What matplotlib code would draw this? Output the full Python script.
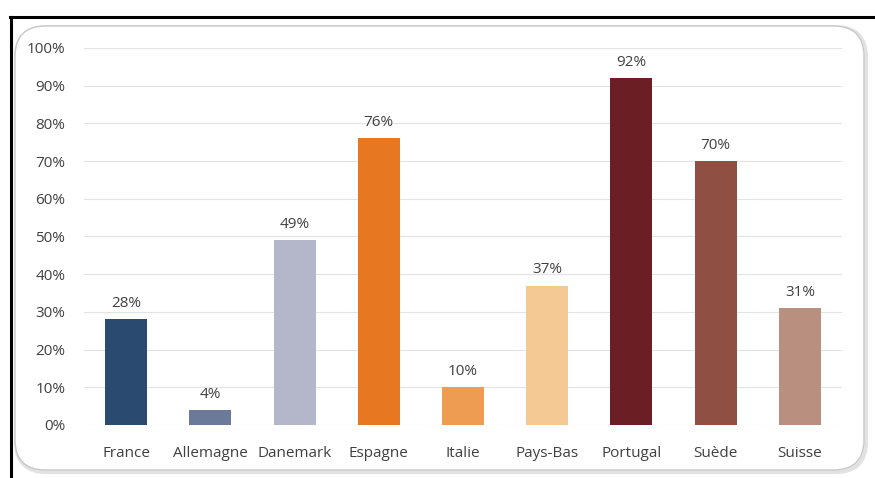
import matplotlib
matplotlib.use("Agg")
import matplotlib.pyplot as plt
from matplotlib.patches import FancyBboxPatch
from matplotlib.lines import Line2D
from matplotlib.ticker import FuncFormatter

countries = ["France", "Allemagne", "Danemark", "Espagne", "Italie",
             "Pays-Bas", "Portugal", "Suède", "Suisse"]
shares = [28, 4, 49, 76, 10, 37, 92, 70, 31]
colors = ["#2b4a6f", "#6b7a99", "#b3b7c9", "#e87722", "#ee9c52",
          "#f5c993", "#6b1f24", "#8f4f42", "#b99080"]
yticks = list(range(0, 101, 10))

plt.rcParams["font.family"] = ["Open Sans", "DejaVu Sans"]

W, H = 875, 478
fig = plt.figure(figsize=(W / 100, H / 100), dpi=100)
fig.patch.set_facecolor("white")

# outer frame lines (top and left)
fig.add_artist(Line2D([10 / W, 1.0], [1 - 17 / H, 1 - 17 / H], color="black", lw=2.2,
                      transform=fig.transFigure, zorder=-2))
fig.add_artist(Line2D([11 / W, 11 / W], [0, 1 - 17 / H], color="black", lw=2.2,
                      transform=fig.transFigure, zorder=-2))

# rounded chart container with soft shadow
shadow = FancyBboxPatch((16 / W, 1 - 472 / H), (866 - 16) / W, (472 - 27) / H,
                        boxstyle="round,pad=0,rounding_size=0.035",
                        transform=fig.transFigure, facecolor="none",
                        edgecolor="#e2e2e2", lw=3, mutation_aspect=W / H, zorder=-2)
fig.add_artist(shadow)
box = FancyBboxPatch((15 / W, 1 - 470 / H), (864 - 15) / W, (470 - 26) / H,
                     boxstyle="round,pad=0,rounding_size=0.035",
                     transform=fig.transFigure, facecolor="white",
                     edgecolor="#c9c9c9", lw=1.0, mutation_aspect=W / H, zorder=-1)
fig.add_artist(box)

ax = fig.add_axes([84 / W, 1 - 425 / H, (842 - 84) / W, (425 - 48) / H])
ax.set_zorder(5)
ax.set_facecolor("none")
x = list(range(len(countries)))
bars = ax.bar(x, shares, width=0.5, color=colors, zorder=3)

for xi, v in zip(x, shares):
    ax.annotate(f"{v}%", (xi, v), xytext=(0, 6), textcoords="offset points",
                ha="center", va="bottom", fontsize=11, color="#404040")

ax.set_xlim(-0.5, len(countries) - 0.5)
ax.set_ylim(0, 100)
ax.set_yticks(yticks)
ax.yaxis.set_major_formatter(FuncFormatter(lambda v, p: f"{int(v)}%"))
ax.set_xticks(x)
ax.set_xticklabels(countries)
ax.tick_params(axis="both", length=0, labelsize=11, labelcolor="#404040")
ax.tick_params(axis="y", pad=13.5)
ax.tick_params(axis="x", pad=15)
ax.grid(axis="y", color="#e3e3e3", lw=0.8, zorder=0)
for s in ax.spines.values():
    s.set_visible(False)

fig.savefig("out.png", dpi=100)
